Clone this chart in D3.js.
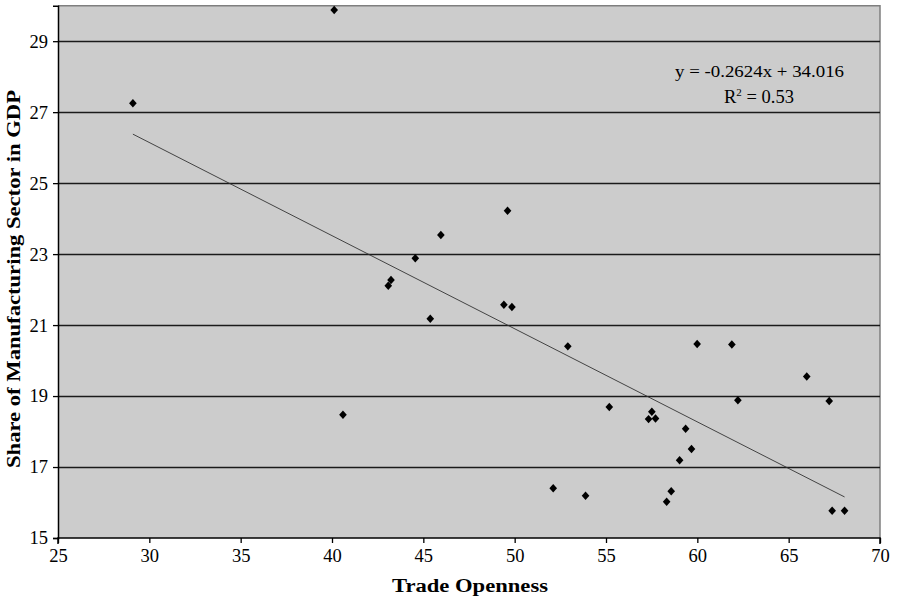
<!DOCTYPE html>
<html>
<head>
<meta charset="utf-8">
<script src="https://cdn.jsdelivr.net/npm/d3@7"></script>
<style>
  html, body { margin: 0; padding: 0; background: #ffffff; }
  svg { display: block; }
  text { font-family: "Liberation Serif", "Times New Roman", serif; fill: #000; }
</style>
</head>
<body>
<svg id="chart" width="899" height="600"></svg>
<script>
// ---- Data ----
const tradeOpenness = [29.1, 40.12, 40.6, 43.08, 43.23, 44.56, 45.38, 45.96, 49.41, 49.61, 49.85,
  52.11, 52.91, 53.88, 55.18, 57.33, 57.51, 57.71, 58.32, 58.57, 59.03, 59.36, 59.68, 59.99,
  61.89, 62.22, 65.99, 67.22, 67.38, 68.06];
const manufShare = [27.25, 29.88, 18.47, 22.11, 22.27, 22.88, 21.18, 23.54, 21.57, 24.22, 21.51,
  16.40, 20.40, 16.19, 18.69, 18.35, 18.56, 18.37, 16.02, 16.32, 17.19, 18.08, 17.51, 20.47,
  20.45, 18.88, 19.55, 18.86, 15.77, 15.77];
const xTicks = [25, 30, 35, 40, 45, 50, 55, 60, 65, 70];
const yTicks = [15, 17, 19, 21, 23, 25, 27, 29];
const slope = -0.2624, intercept = 34.016, rSquared = 0.53;
const xTitle = "Trade Openness";
const yTitle = "Share of Manufacturing Sector in GDP";

// ---- Layout ----
const svg = d3.select("#chart");
const plot = { left: 58, right: 880, top: 5.7, bottom: 538 };

const x = d3.scaleLinear().domain([25, 70]).range([plot.left, plot.right]);
const y = d3.scaleLinear().domain([15, 30]).range([plot.bottom, plot.top]);

// plot area background
svg.append("rect")
  .attr("x", plot.left).attr("y", plot.top)
  .attr("width", plot.right - plot.left).attr("height", plot.bottom - plot.top)
  .attr("fill", "#cccccc");

// top & right border (gray)
svg.append("path")
  .attr("d", `M${plot.left},${plot.top}H${plot.right}V${plot.bottom}`)
  .attr("fill", "none").attr("stroke", "#7f7f7f").attr("stroke-width", 1.5);

// gridlines
svg.append("g").selectAll("line")
  .data(yTicks.filter(d => d !== 15))
  .join("line")
  .attr("x1", plot.left).attr("x2", plot.right)
  .attr("y1", d => Math.round(y(d)) + 0.5).attr("y2", d => Math.round(y(d)) + 0.5)
  .attr("stroke", "#1a1a1a").attr("stroke-width", 1.3);

// axes
const xAxis = d3.axisBottom(x).tickValues(xTicks).tickSize(5).tickPadding(6).tickFormat(d3.format("d"));
const yAxis = d3.axisLeft(y).tickValues(yTicks).tickSize(5).tickPadding(5).tickFormat(d3.format("d"));

const gx = svg.append("g").attr("transform", `translate(0,${plot.bottom})`).call(xAxis);
const gy = svg.append("g").attr("transform", `translate(${plot.left},0)`).call(yAxis);
[gx, gy].forEach(g => {
  g.attr("font-family", null).attr("font-size", null);
  g.select(".domain").attr("stroke", "#000").attr("stroke-width", 1.5);
  g.selectAll(".tick line").attr("stroke", "#000").attr("stroke-width", 1.3);
  g.selectAll(".tick text")
    .style("font-family", '"Liberation Serif", "Times New Roman", serif')
    .style("font-size", "18.5px").attr("fill", "#000");
});
gx.select(".domain").attr("d", `M${plot.left},6V0H${plot.right}V6`);

// trend line
const xMin = d3.min(tradeOpenness), xMax = d3.max(tradeOpenness);
svg.append("line")
  .attr("x1", x(xMin)).attr("y1", y(slope * xMin + intercept))
  .attr("x2", x(xMax)).attr("y2", y(slope * xMax + intercept))
  .attr("stroke", "#333").attr("stroke-width", 0.9);

// points (square-ish diamond like the reference)
const diamond = {
  draw(ctx, size) {
    const h = Math.sqrt(size) / 2, w = h * 0.9;
    ctx.moveTo(0, -h); ctx.lineTo(w, 0); ctx.lineTo(0, h); ctx.lineTo(-w, 0); ctx.closePath();
  }
};
const pts = tradeOpenness.map((v, i) => [v, manufShare[i]]);
svg.append("g").selectAll("path")
  .data(pts)
  .join("path")
  .attr("d", d3.symbol().type(diamond).size(72))
  .attr("transform", d => `translate(${x(d[0])},${y(d[1])})`)
  .attr("fill", "#000");

// equation
svg.append("text")
  .attr("x", 675).attr("y", 77)
  .attr("textLength", 169).attr("lengthAdjust", "spacingAndGlyphs")
  .style("font-size", "17px")
  .text(`y = ${slope}x + ${intercept.toFixed(3)}`);
const r2 = svg.append("text")
  .attr("x", 724).attr("y", 103)
  .style("font-size", "18.5px");
r2.append("tspan").text("R");
r2.append("tspan").attr("dy", -7).style("font-size", "11px").text("2");
r2.append("tspan").attr("dy", 7).text(` = ${rSquared.toFixed(2)}`);

// axis titles
svg.append("text")
  .attr("x", 392).attr("y", 592)
  .attr("textLength", 156).attr("lengthAdjust", "spacingAndGlyphs")
  .style("font-size", "18px").style("font-weight", "bold")
  .text(xTitle);
svg.append("text")
  .attr("transform", `translate(20,468) rotate(-90)`)
  .attr("textLength", 378).attr("lengthAdjust", "spacingAndGlyphs")
  .style("font-size", "18px").style("font-weight", "bold")
  .text(yTitle);
</script>
</body>
</html>
